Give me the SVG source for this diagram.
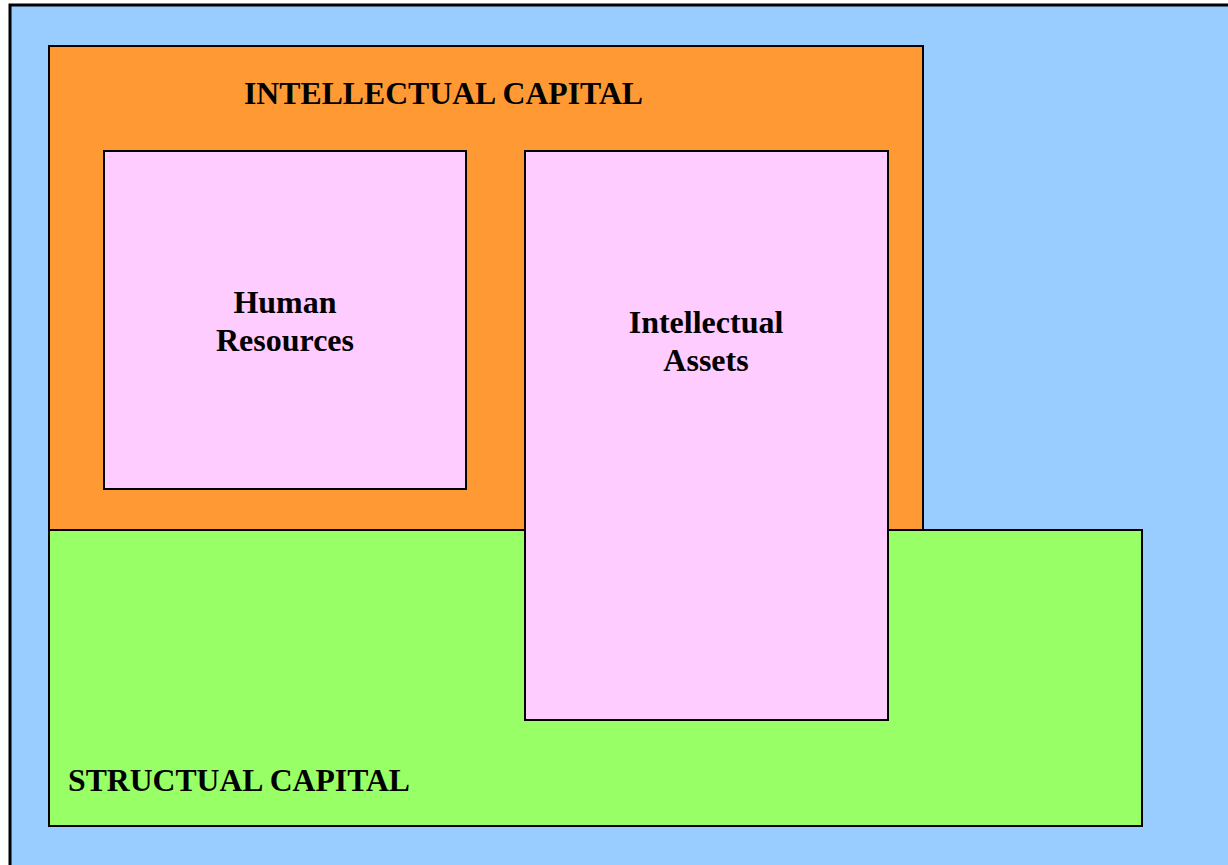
<svg xmlns="http://www.w3.org/2000/svg" width="1228" height="865" viewBox="0 0 1228 865">
<style>
.box{stroke:#000;stroke-width:2}
.t{font-family:"Liberation Serif","Times New Roman",serif;font-weight:bold;font-size:32px;fill:#000}
</style>
<g id="background"><rect x="10" y="5" width="1230" height="870" fill="#99ccff" stroke="#000" stroke-width="3"/></g>
<g id="intellectual-capital">
<rect x="49" y="46" width="874" height="484" fill="#ff9933" class="box"/>
<text class="t" x="244" y="104" textLength="399" lengthAdjust="spacingAndGlyphs">INTELLECTUAL CAPITAL</text>
</g>
<g id="structual-capital">
<rect x="49" y="530" width="1093" height="296" fill="#99ff66" class="box"/>
<text class="t" x="68" y="791" textLength="342" lengthAdjust="spacingAndGlyphs">STRUCTUAL CAPITAL</text>
</g>
<g id="human-resources">
<rect x="104" y="151" width="362" height="338" fill="#ffccff" class="box"/>
<text class="t" x="285" y="313" text-anchor="middle">Human</text>
<text class="t" x="285" y="351" text-anchor="middle">Resources</text>
</g>
<g id="intellectual-assets">
<rect x="525" y="151" width="363" height="569" fill="#ffccff" class="box"/>
<text class="t" x="706" y="333" text-anchor="middle">Intellectual</text>
<text class="t" x="706" y="371" text-anchor="middle">Assets</text>
</g>
<g id="connectors"/>
</svg>
